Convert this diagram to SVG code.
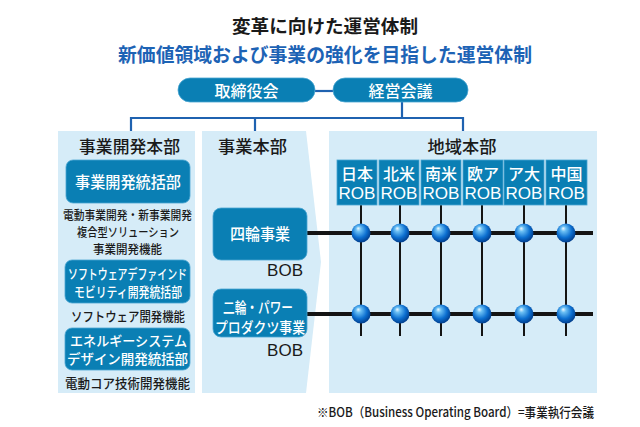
<svg xmlns="http://www.w3.org/2000/svg" width="640" height="427" viewBox="0 0 640 427">
<defs>
<style>
.jp{font-family:"Noto Sans CJK JP","Noto Sans",sans-serif;font-weight:500;}
.lat{font-family:"Liberation Sans","Noto Sans",sans-serif;}
.c{text-anchor:middle;dominant-baseline:central;}
.w{fill:#ffffff;}
.k{fill:#1a1a1a;}
.panel{fill:#d6ecf8;}
.box{fill:#0a7fb4;stroke:#4aa6d2;stroke-width:0.8;}
.blue{stroke:#1f62b0;stroke-width:2.2;fill:none;}
.bar{stroke:#141414;stroke-width:4;}
.stem{stroke:#141414;stroke-width:2;}
</style>
<radialGradient id="ball" cx="0.45" cy="0.42" r="0.6" fx="0.35" fy="0.25">
<stop offset="0" stop-color="#f0f9ff"/>
<stop offset="0.22" stop-color="#6cc0f4"/>
<stop offset="0.65" stop-color="#0c6fd0"/>
<stop offset="1" stop-color="#003a88"/>
</radialGradient>
</defs>
<rect width="640" height="427" fill="#ffffff"/>

<g id="title">
<text class="jp c k" x="325" y="25" font-size="18" style="font-weight:700" textLength="186" lengthAdjust="spacingAndGlyphs">変革に向けた運営体制</text>
<text class="jp c" x="325" y="53" font-size="19" style="font-weight:700" fill="#1d63b5" textLength="414" lengthAdjust="spacingAndGlyphs">新価値領域および事業の強化を目指した運営体制</text>
</g>

<g id="connectors">
<line class="blue" x1="315" y1="91" x2="333" y2="91"/>
<polyline class="blue" points="402,102 402,118 255,118 255,131"/>
<polyline class="blue" points="402,118 463,118 463,131"/>
<polyline class="blue" points="255,118 131,118 131,131"/>
</g>

<g id="board">
<rect class="box" x="178" y="78" width="137" height="24" rx="12"/>
<text class="jp c w" x="246.5" y="90" font-size="15.5" textLength="64" lengthAdjust="spacingAndGlyphs">取締役会</text>
</g>
<g id="exec">
<rect class="box" x="333" y="78" width="135" height="24" rx="12"/>
<text class="jp c w" x="400.5" y="90" font-size="15.5" textLength="64" lengthAdjust="spacingAndGlyphs">経営会議</text>
</g>

<g id="dev-hq">
<rect class="panel" x="58" y="131" width="137" height="262"/>
<text class="jp c k" x="129.5" y="145" font-size="17" textLength="101" lengthAdjust="spacingAndGlyphs">事業開発本部</text>
<rect class="box" x="66" y="160" width="124" height="43" rx="7"/>
<text class="jp c w" x="128" y="181" font-size="15.5" textLength="106" lengthAdjust="spacingAndGlyphs">事業開発統括部</text>
<text class="jp c k" x="127.5" y="214" font-size="12" textLength="129" lengthAdjust="spacingAndGlyphs">電動事業開発・新事業開発</text>
<text class="jp c k" x="128" y="231" font-size="12" textLength="102" lengthAdjust="spacingAndGlyphs">複合型ソリューション</text>
<text class="jp c k" x="127.5" y="248" font-size="12" textLength="69" lengthAdjust="spacingAndGlyphs">事業開発機能</text>
<rect class="box" x="65" y="260" width="125" height="43" rx="7"/>
<text class="jp c w" x="127.5" y="273" font-size="13.5" textLength="119" lengthAdjust="spacingAndGlyphs">ソフトウェアデファインド</text>
<text class="jp c w" x="128" y="291" font-size="13.5" textLength="108" lengthAdjust="spacingAndGlyphs">モビリティ開発統括部</text>
<text class="jp c k" x="128" y="315" font-size="13" textLength="114" lengthAdjust="spacingAndGlyphs">ソフトウェア開発機能</text>
<rect class="box" x="65" y="328" width="125" height="42" rx="7"/>
<text class="jp c w" x="128.5" y="339.5" font-size="13.5" textLength="117" lengthAdjust="spacingAndGlyphs">エネルギーシステム</text>
<text class="jp c w" x="127.5" y="358" font-size="13.5" textLength="121" lengthAdjust="spacingAndGlyphs">デザイン開発統括部</text>
<text class="jp c k" x="127.5" y="382" font-size="13" textLength="125" lengthAdjust="spacingAndGlyphs">電動コア技術開発機能</text>
</g>

<g id="biz-hq">
<polygon class="panel" points="202,131 306,131 321,262 306,393 202,393"/>
<text class="jp c k" x="252.5" y="145" font-size="17" textLength="69" lengthAdjust="spacingAndGlyphs">事業本部</text>
</g>

<g id="region-hq">
<rect class="panel" x="329" y="131" width="268" height="262"/>
<text class="jp c k" x="462" y="145" font-size="17" textLength="69" lengthAdjust="spacingAndGlyphs">地域本部</text>
</g>

<g id="grid">
<g class="stems">
<line class="stem" x1="361" y1="205" x2="361" y2="336"/>
<line class="stem" x1="400" y1="205" x2="400" y2="336"/>
<line class="stem" x1="441" y1="205" x2="441" y2="336"/>
<line class="stem" x1="482" y1="205" x2="482" y2="336"/>
<line class="stem" x1="524" y1="205" x2="524" y2="336"/>
<line class="stem" x1="566" y1="205" x2="566" y2="336"/>
</g>
<line class="bar" x1="306" y1="233" x2="593" y2="233"/>
<line class="bar" x1="306" y1="314" x2="593" y2="314"/>
<g fill="url(#ball)">
<circle cx="361" cy="233" r="9.5"/><circle cx="400" cy="233" r="9.5"/><circle cx="441" cy="233" r="9.5"/>
<circle cx="482" cy="233" r="9.5"/><circle cx="524" cy="233" r="9.5"/><circle cx="566" cy="233" r="9.5"/>
<circle cx="361" cy="314" r="9.5"/><circle cx="400" cy="314" r="9.5"/><circle cx="441" cy="314" r="9.5"/>
<circle cx="482" cy="314" r="9.5"/><circle cx="524" cy="314" r="9.5"/><circle cx="566" cy="314" r="9.5"/>
</g>
</g>

<g id="four-wheel">
<rect class="box" x="213" y="208" width="94" height="52" rx="8"/>
<text class="jp c w" x="260" y="233" font-size="15.5" textLength="60" lengthAdjust="spacingAndGlyphs">四輪事業</text>
<text class="lat k" x="303" y="276" font-size="17" text-anchor="end">BOB</text>
</g>

<g id="two-wheel">
<rect class="box" x="213" y="289" width="94" height="48" rx="8"/>
<text class="jp c w" x="258" y="306" font-size="15" textLength="70" lengthAdjust="spacingAndGlyphs">二輪・パワー</text>
<text class="jp c w" x="260" y="326" font-size="15" textLength="90" lengthAdjust="spacingAndGlyphs">プロダクツ事業</text>
<text class="lat k" x="303" y="356" font-size="17" text-anchor="end">BOB</text>
</g>

<g id="rob-japan">
<rect class="box" x="337" y="160" width="40" height="45"/>
<text class="jp c w" x="357" y="173" font-size="16" textLength="32" lengthAdjust="spacingAndGlyphs">日本</text>
<text class="lat c w" x="357" y="193" font-size="17" textLength="37" lengthAdjust="spacingAndGlyphs">ROB</text>
</g>
<g id="rob-na">
<rect class="box" x="379" y="160" width="40" height="45"/>
<text class="jp c w" x="399" y="173" font-size="16" textLength="32" lengthAdjust="spacingAndGlyphs">北米</text>
<text class="lat c w" x="399" y="193" font-size="17" textLength="37" lengthAdjust="spacingAndGlyphs">ROB</text>
</g>
<g id="rob-sa">
<rect class="box" x="421" y="160" width="40" height="45"/>
<text class="jp c w" x="441" y="173" font-size="16" textLength="32" lengthAdjust="spacingAndGlyphs">南米</text>
<text class="lat c w" x="441" y="193" font-size="17" textLength="37" lengthAdjust="spacingAndGlyphs">ROB</text>
</g>
<g id="rob-eu">
<rect class="box" x="463" y="160" width="40" height="45"/>
<text class="jp c w" x="483" y="173" font-size="16" textLength="32" lengthAdjust="spacingAndGlyphs">欧ア</text>
<text class="lat c w" x="483" y="193" font-size="17" textLength="37" lengthAdjust="spacingAndGlyphs">ROB</text>
</g>
<g id="rob-ao">
<rect class="box" x="504" y="160" width="40" height="45"/>
<text class="jp c w" x="524" y="173" font-size="16" textLength="32" lengthAdjust="spacingAndGlyphs">ア大</text>
<text class="lat c w" x="524" y="193" font-size="17" textLength="37" lengthAdjust="spacingAndGlyphs">ROB</text>
</g>
<g id="rob-cn">
<rect class="box" x="546" y="160" width="41" height="45"/>
<text class="jp c w" x="566.5" y="173" font-size="16" textLength="32" lengthAdjust="spacingAndGlyphs">中国</text>
<text class="lat c w" x="566.5" y="193" font-size="17" textLength="37" lengthAdjust="spacingAndGlyphs">ROB</text>
</g>

<g id="note">
<text class="jp k" x="317" y="411" font-size="13" dominant-baseline="central" textLength="277" lengthAdjust="spacingAndGlyphs">※BOB（Business Operating Board）=事業執行会議</text>
</g>
</svg>
